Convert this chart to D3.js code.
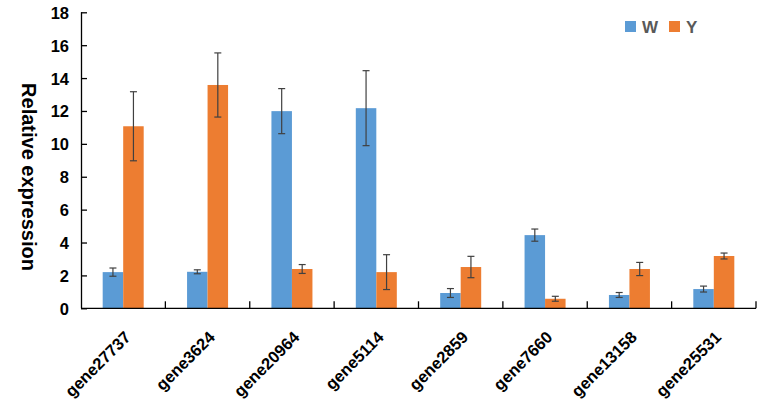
<!DOCTYPE html>
<html><head><meta charset="utf-8">
<script src="https://cdn.jsdelivr.net/npm/d3@7"></script>
<style>body{margin:0;background:#fff}svg{display:block}text{font-family:"Liberation Sans",Arial,sans-serif;font-weight:bold}</style>
</head><body><svg id="c" width="772" height="408"></svg>
<script>
const genes = ["gene27737","gene3624","gene20964","gene5114","gene2859","gene7660","gene13158","gene25531"];
const seriesNames = ["W","Y"];
const wValues = [2.2, 2.22, 11.99, 12.17, 0.93, 4.45, 0.81, 1.17];
const wErrors = [0.25, 0.12, 1.37, 2.28, 0.27, 0.37, 0.15, 0.18];
const yValues = [11.07, 13.58, 2.39, 2.2, 2.51, 0.58, 2.39, 3.18];
const yErrors = [2.1, 1.95, 0.27, 1.06, 0.65, 0.15, 0.4, 0.18];
const yTicks = [0,2,4,6,8,10,12,14,16,18];
const colors = ["#5B9BD5","#ED7D31"];

const svg = d3.select("#c");
const L = 81, R = 756, T = 12.3, B = 308.3;
const x0 = d3.scaleBand().domain(genes).range([L, R]).paddingInner(0.514).paddingOuter(0.257);
const x1 = d3.scaleBand().domain(seriesNames).range([0, x0.bandwidth()]);
const y = d3.scaleLinear().domain([0, 18]).range([B, T]);
const xb = d3.scaleBand().domain(genes).range([L, R]);

const data = genes.map((g,i)=>({g, vals:[{s:"W",v:wValues[i],e:wErrors[i]},{s:"Y",v:yValues[i],e:yErrors[i]}]}));

// bars
const grp = svg.append("g").selectAll("g").data(data).join("g")
  .attr("transform", d=>`translate(${x0(d.g)},0)`);
grp.selectAll("rect").data(d=>d.vals).join("rect")
  .attr("x", d=>x1(d.s)).attr("width", x1.bandwidth())
  .attr("y", d=>y(d.v)).attr("height", d=>y(0)-y(d.v))
  .attr("fill", (d,i)=>colors[i]);
// error bars
const eb = grp.selectAll("g.e").data(d=>d.vals).join("g").attr("class","e")
  .attr("stroke","#404040").attr("stroke-width",1.2).attr("fill","none");
eb.append("line").attr("x1",d=>x1(d.s)+x1.bandwidth()/2).attr("x2",d=>x1(d.s)+x1.bandwidth()/2)
  .attr("y1",d=>y(d.v+d.e)).attr("y2",d=>y(d.v-d.e));
eb.append("line").attr("x1",d=>x1(d.s)+x1.bandwidth()/2-3.5).attr("x2",d=>x1(d.s)+x1.bandwidth()/2+3.5)
  .attr("y1",d=>y(d.v+d.e)).attr("y2",d=>y(d.v+d.e));
eb.append("line").attr("x1",d=>x1(d.s)+x1.bandwidth()/2-3.5).attr("x2",d=>x1(d.s)+x1.bandwidth()/2+3.5)
  .attr("y1",d=>y(d.v-d.e)).attr("y2",d=>y(d.v-d.e));

// y axis
const ya = svg.append("g").attr("transform",`translate(${L},0)`)
  .call(d3.axisRight(y).tickValues(yTicks).tickSize(6).tickFormat(d3.format("d")));
ya.select(".domain").attr("d",`M0.5,${T}V${B}`).attr("stroke","#000").attr("stroke-width",1.3);
ya.selectAll(".tick line").attr("stroke","#000").attr("stroke-width",1.3);
ya.selectAll(".tick text").attr("x",-12).attr("text-anchor","end").attr("fill","#000")
  .attr("font-size",16.5).attr("dy","0.36em");

// x axis
const xa = svg.append("g").attr("transform",`translate(0,${B})`);
xa.append("line").attr("x1",L).attr("x2",R).attr("y1",0).attr("y2",0).attr("stroke","#000").attr("stroke-width",1.3);
const bounds = genes.map(g=>xb(g)+xb.bandwidth());
xa.selectAll("line.t").data(bounds).join("line").attr("class","t")
  .attr("x1",d=>d).attr("x2",d=>d).attr("y1",0).attr("y2",-7).attr("stroke","#000").attr("stroke-width",1.3);

// rotated category labels
svg.append("g").selectAll("text").data(genes).join("text")
  .attr("transform", g=>"translate("+(x0(g)+x0.bandwidth()/2+8.5)+","+(B+30)+") rotate(-45)")
  .attr("text-anchor","end").attr("font-size",16.5).attr("fill","#000").text(g=>g);

// y title
svg.append("text").attr("transform","translate(22,177) rotate(90)")
  .attr("text-anchor","middle").attr("font-size",20).attr("fill","#000").text("Relative expression");

// legend
const lg = svg.append("g");
const lx = [625, 669];
lg.selectAll("rect").data(seriesNames).join("rect")
  .attr("x",(d,i)=>lx[i]).attr("y",21).attr("width",11).attr("height",11).attr("fill",(d,i)=>colors[i]);
lg.selectAll("text").data(seriesNames).join("text")
  .attr("x",(d,i)=>lx[i]+17).attr("y",33).attr("font-size",17).attr("fill","#595959").text(d=>d);
</script></body></html>
